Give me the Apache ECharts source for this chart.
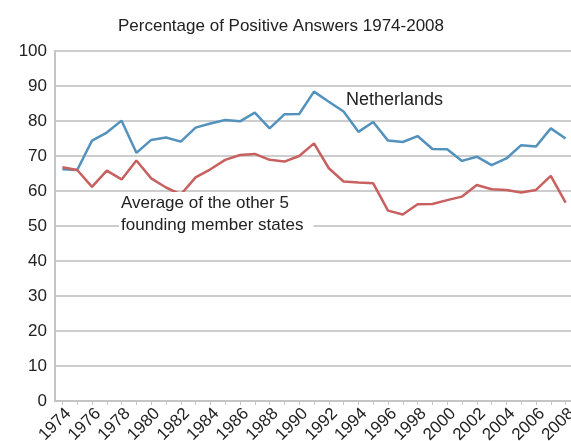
<!DOCTYPE html>
<html>
<head>
<meta charset="utf-8">
<script src="https://cdn.jsdelivr.net/npm/echarts@6/dist/echarts.min.js"></script>
<style>
  html, body { margin: 0; padding: 0; background: #fff; }
  #main { width: 571px; height: 441px; }
</style>
</head>
<body>
<div id="main"></div>
<script>
// years 1974-2008
var years = [];
for (var y = 1974; y <= 2008; y++) years.push(String(y));

// Netherlands, % positive
var netherlands = [66.2, 66.0, 74.4, 76.7, 80.1, 70.9, 74.6, 75.3, 74.1, 78.1,
  79.3, 80.3, 79.9, 82.4, 77.9, 81.9, 82.0, 88.4, 85.5, 82.7,
  76.9, 79.7, 74.4, 74.0, 75.7, 72.0, 71.9, 68.6, 69.8, 67.4,
  69.3, 73.1, 72.7, 77.9, 75.0];

// average of the other 5 founding member states
var otherFive = [66.8, 66.0, 61.2, 65.8, 63.3, 68.7, 63.6, 61.0, 59.0, 63.9,
  66.2, 68.9, 70.3, 70.6, 68.9, 68.4, 70.0, 73.6, 66.5, 62.7,
  62.4, 62.2, 54.4, 53.3, 56.2, 56.3, 57.4, 58.4, 61.7, 60.5,
  60.3, 59.6, 60.3, 64.3, 56.7];

var font = '"Liberation Sans", Arial, Helvetica, sans-serif';

var chart = echarts.init(document.getElementById('main'));
chart.setOption({
  animation: false,
  title: {
    text: 'Percentage of Positive Answers 1974-2008',
    left: 113,
    top: 13,
    textStyle: { fontFamily: font, fontSize: 17, fontWeight: 'normal', color: '#222' }
  },
  grid: { left: 55, top: 51, width: 518, bottom: 40, outerBoundsMode: 'none' },
  xAxis: {
    type: 'category',
    data: years,
    boundaryGap: true,
    axisLine: { lineStyle: { color: '#c4c4c4', width: 2 } },
    axisTick: { show: true, interval: 0, alignWithLabel: true, length: 4, lineStyle: { color: '#c8c8c8' } },
    axisLabel: {
      interval: 1, rotate: 45, margin: 4, verticalAlign: 'top',
      fontFamily: font, fontSize: 17, color: '#222'
    }
  },
  yAxis: {
    type: 'value',
    min: 0, max: 100, interval: 10,
    axisLine: { show: true, lineStyle: { color: '#c4c4c4', width: 2 } },
    axisTick: { show: false },
    splitLine: { lineStyle: { color: '#bdbdbd', width: 1.5 } },
    axisLabel: { margin: 8, fontFamily: font, fontSize: 17, color: '#222' }
  },
  series: [
    {
      name: 'Netherlands', type: 'line', data: netherlands,
      symbol: 'none', lineStyle: { color: '#5392bd', width: 2.5 }, z: 3
    },
    {
      name: 'Average of the other 5 founding member states', type: 'line', data: otherFive,
      symbol: 'none', lineStyle: { color: '#c8605f', width: 2.5 }, z: 3
    }
  ],
  graphic: [
    {
      type: 'text', left: 346, top: 91, z: 10,
      style: { text: 'Netherlands', fontFamily: font, fontSize: 18, fill: '#222' }
    },
    {
      type: 'text', left: 119, top: 192, z: 10,
      style: {
        text: 'Average of the other 5\nfounding member states',
        fontFamily: font, fontSize: 17, fill: '#222', lineHeight: 22,
        backgroundColor: '#fff', padding: [0, 10, 0, 2]
      }
    }
  ]
});
</script>
</body>
</html>
